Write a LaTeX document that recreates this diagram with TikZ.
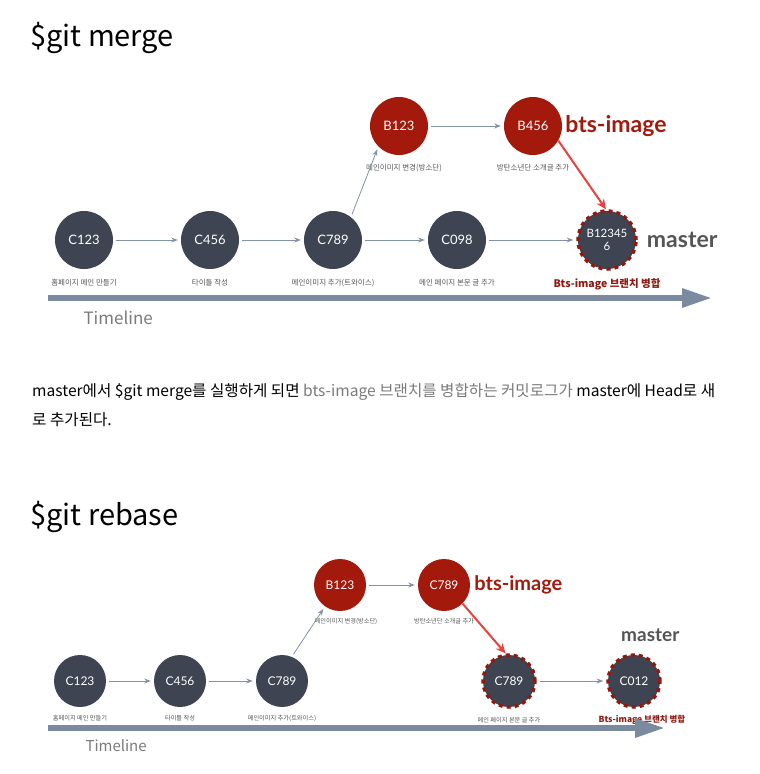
\documentclass[tikz,border=0pt]{standalone}
\usepackage{fontspec}
\usepackage{xcolor}
\newfontfamily\krfont{Noto Sans CJK KR}
\newfontfamily\gillfont{Lato}
\usetikzlibrary{arrows.meta, positioning}
\definecolor{commitfill}{HTML}{3E4452}
\definecolor{branchfill}{HTML}{A3190B}
\definecolor{dotred}{HTML}{8E1A10}
\definecolor{linkblue}{HTML}{8391A8}
\definecolor{mergered}{HTML}{E8423E}
\definecolor{labelgray}{HTML}{555555}
\definecolor{paragray}{HTML}{7A7A7A}

\begin{document}
\begin{tikzpicture}[
    x=1pt, y=-1pt,
    commit/.style={circle, fill=commitfill, text=white, minimum size=58pt, inner sep=0pt,
                   align=center, font=\gillfont\fontsize{13}{14}\selectfont},
    branch/.style={commit, fill=branchfill},
    head/.style={commit, draw=dotred, line width=3.5pt, dash pattern=on 4pt off 4pt},
    small/.style={minimum size=52pt, font=\gillfont\fontsize{12}{13}\selectfont},
    note/.style={font=\krfont\fontsize{7.5}{8}\selectfont, text=labelgray, inner sep=1pt},
    smallnote/.style={note, font=\krfont\fontsize{6.2}{7}\selectfont},
    mergenote/.style={font=\krfont\bfseries\fontsize{10.5}{11}\selectfont, text=dotred, inner sep=1pt},
    tag/.style={font=\gillfont\bfseries\fontsize{23}{25}\selectfont, inner sep=0pt, anchor=west},
    heading/.style={font=\krfont\fontsize{29}{32}\selectfont, anchor=west, inner sep=0pt},
    para/.style={font=\krfont\fontsize{15.6}{17}\selectfont, anchor=west, inner sep=0pt},
    arr/.style={-Stealth, draw=linkblue, line width=0.8pt, shorten >=3pt, shorten <=3pt},
    merge/.style={-{Stealth[length=10pt, width=9pt]}, draw=mergered, line width=2pt},
    timeline/.style={-{Triangle[length=30pt, width=18pt]}, draw=linkblue!95!black, line width=6pt},
]
\useasboundingbox (0,0) rectangle (760,774);

% --- $git merge ---
\node[heading] (mergetitle) at (30,38) {\$git merge};

\node[commit] (m1) at (84,240) {C123};
\node[commit] (m2) at (210,240) {C456};
\node[commit] (m3) at (333,240) {C789};
\node[commit] (m4) at (457,240) {C098};
\node[head, font=\gillfont\fontsize{11.5}{13}\selectfont] (m5) at (607,240) {B12345\\6};
\node[branch] (b1) at (399,126) {B123};
\node[branch] (b2) at (533,126) {B456};

\node[note, below=9pt of m1] (m1l) {홈페이지 메인 만들기};
\node[note, below=9pt of m2] (m2l) {타이틀 작성};
\node[note, below=9pt of m3] (m3l) {메인이미지 추가(트와이스)};
\node[note, below=9pt of m4] (m4l) {메인 페이지 본문 글 추가};
\node[mergenote, below=7pt of m5] (m5l) {Bts-image 브랜치 병합};
\node[note, below=8pt of b1, xshift=5pt] (b1l) {메인이미지 변경(방소단)};
\node[note, below=8pt of b2] (b2l) {방탄소년단 소개글 추가};

\node[tag, text=branchfill, right=3pt of b2] (bts1) {bts-image};
\node[tag, text=labelgray, right=9pt of m5] (master1) {master};

\draw[arr] (m1) -- (m2);
\draw[arr] (m2) -- (m3);
\draw[arr] (m3) -- (m4);
\draw[arr] (m4) -- (m5);
\draw[arr] (m3.52) -- (b1.225);
\draw[arr] (b1) -- (b2);
\draw[merge] (b2.-30) -- (m5.92);

\coordinate (t1s) at (48,298);
\coordinate (t1e) at (712,298);
\draw[timeline] (t1s) -- (t1e);
\node[font=\krfont\fontsize{17}{18}\selectfont, text=paragray, anchor=west] (t1l) at (80,318) {Timeline};

% --- paragraph ---
\node[para] (para1) at (32,392)
  {master에서 \$git merge를 실행하게 되면 \textcolor{paragray}{bts-image 브랜치를 병합하는 커밋로그가} master에 Head로 새};
\node[para] (para2) at (32,420) {로 추가된다.};

% --- $git rebase ---
\node[heading] (rebasetitle) at (30,517) {\$git rebase};

\node[commit, small] (r1) at (80,681) {C123};
\node[commit, small] (r2) at (180,681) {C456};
\node[commit, small] (r3) at (282,681) {C789};
\node[head, small] (r4) at (509,681) {C789};
\node[head, small] (r5) at (634,681) {C012};
\node[branch, small] (rb1) at (340,585) {B123};
\node[branch, small] (rb2) at (444,585) {C789};

\node[smallnote, below=7pt of r1] (r1l) {홈페이지 메인 만들기};
\node[smallnote, below=7pt of r2] (r2l) {타이틀 작성};
\node[smallnote, below=7pt of r3] (r3l) {메인이미지 추가(트와이스)};
\node[smallnote, below=7pt of r4] (r4l) {메인 페이지 본문 글 추가};
\node[mergenote, font=\krfont\bfseries\fontsize{8.5}{9}\selectfont, below=5pt of r5, xshift=8pt] (r5l) {Bts-image 브랜치 병합};
\node[smallnote, below=6pt of rb1, xshift=6pt] (rb1l) {메인이미지 변경(방소단)};
\node[smallnote, below=6pt of rb2] (rb2l) {방탄소년단 소개글 추가};

\node[tag, text=branchfill, font=\gillfont\bfseries\fontsize{20}{22}\selectfont, right=4pt of rb2] (bts2) {bts-image};
\node[tag, text=labelgray, font=\gillfont\bfseries\fontsize{19}{20}\selectfont] (master2) at (621,635) {master};

\draw[arr] (r1) -- (r2);
\draw[arr] (r2) -- (r3);
\draw[arr] (r3.68) -- (rb1.235);
\draw[arr] (rb1) -- (rb2);
\draw[arr] (r4) -- (r5);
\draw[merge] (rb2.-45) -- (r4.97);

\coordinate (t2s) at (48,728);
\coordinate (t2e) at (665,728);
\draw[timeline] (t2s) -- (t2e);
\node[font=\krfont\fontsize{15}{16}\selectfont, text=paragray, anchor=west] (t2l) at (82,746) {Timeline};

\end{tikzpicture}
\end{document}
